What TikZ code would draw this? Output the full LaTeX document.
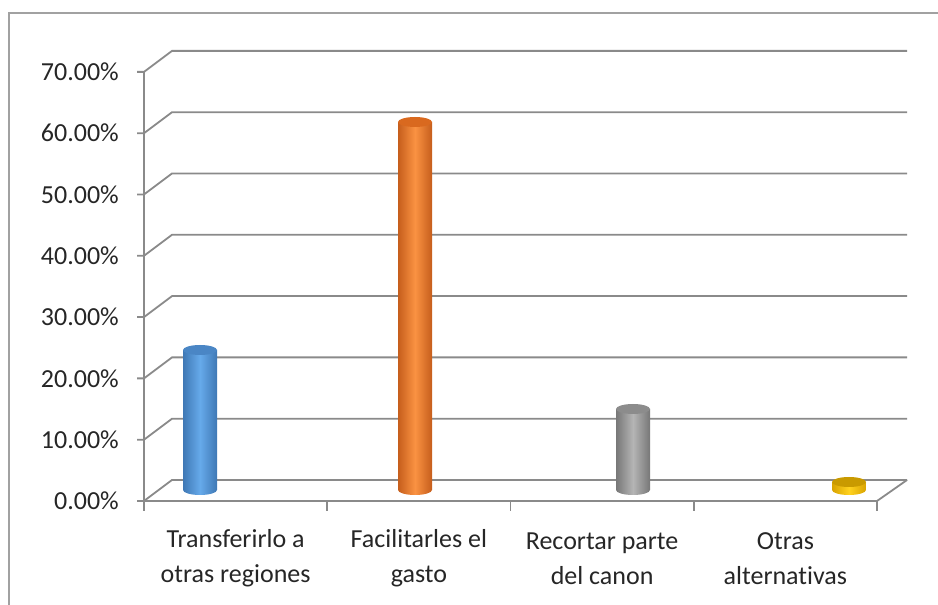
\documentclass[tikz,border=0pt]{standalone}
\usepackage{fontspec}
\setmainfont{Carlito}[Ligatures=NoCommon]
\usetikzlibrary{positioning}
\definecolor{gridgray}{HTML}{8A8A8A}
\definecolor{labgray}{HTML}{262626}
\definecolor{bedge}{HTML}{3F78B5}
\definecolor{bmid}{HTML}{66AAEA}
\definecolor{blid}{HTML}{4A86C5}
\definecolor{oedge}{HTML}{C65E1C}
\definecolor{omid}{HTML}{FA9242}
\definecolor{olid}{HTML}{D9691F}
\definecolor{gedge}{HTML}{777777}
\definecolor{gmid}{HTML}{B5B5B5}
\definecolor{glid}{HTML}{8C8C8C}
\definecolor{yedge}{HTML}{D9A300}
\definecolor{ymid}{HTML}{FFD21F}
\definecolor{ylid}{HTML}{C99A00}
\tikzset{gridline/.style={draw=gridgray,line width=1.8pt},
  ylab/.style={anchor=east,inner sep=0pt,text=labgray},
  catlab/.style={align=center,inner sep=0pt,text=labgray}}

% cylinder: x centre, top, edge colour, middle colour, lid colour
\newcommand{\cylbar}[5]{%
  \shade[left color=#3,right color=#3,middle color=#4]
    (#1-17,#2) -- (#1-17,115) arc[start angle=180,end angle=360,x radius=17,y radius=5]
    -- (#1+17,#2) -- cycle;
  \fill[#5] (#1,#2) ellipse[x radius=17,y radius=5];
}

\begin{document}
\begin{tikzpicture}[x=1pt,y=1pt,font=\fontsize{26}{35}\selectfont]
\useasboundingbox (0,0) rectangle (938,605);
% frame
\draw[gridgray!80,line width=1.2pt] (9,0) -- (9,592) -- (938,592);
% gridlines and value axis
\foreach \k/\t in {0/0.00,1/10.00,2/20.00,3/30.00,4/40.00,5/50.00,6/60.00,7/70.00}{
  \draw[gridline] (137,104+61.3*\k) -- (144,104+61.3*\k) -- (172,125+61.3*\k) -- (907,125+61.3*\k);
  \node[ylab] (p\k) at (119,104+61.3*\k) {\t\%};
}
\draw[gridline] (144,533.1) -- (144,104) -- (877,104) -- (907,125);
\foreach \x in {144,327.25,510.5,693.75,877}
  \draw[gridline] (\x,104) -- (\x,94);
% bars
\cylbar{200}{255}{bedge}{bmid}{blid}
\cylbar{415}{483}{oedge}{omid}{olid}
\cylbar{633}{196}{gedge}{gmid}{glid}
\cylbar{849}{123}{yedge}{ymid}{ylid}
% categories
\node[catlab] (c1) at (235.6,46.5) {Transferirlo a\\otras regiones};
\node[catlab] (c2) at (418.9,46.5) {Facilitarles el\\gasto};
\node[catlab] (c3) at (602.1,46.5) {Recortar parte\\del canon};
\node[catlab] (c4) at (785.4,46.5) {Otras\\alternativas};
\end{tikzpicture}
\end{document}
